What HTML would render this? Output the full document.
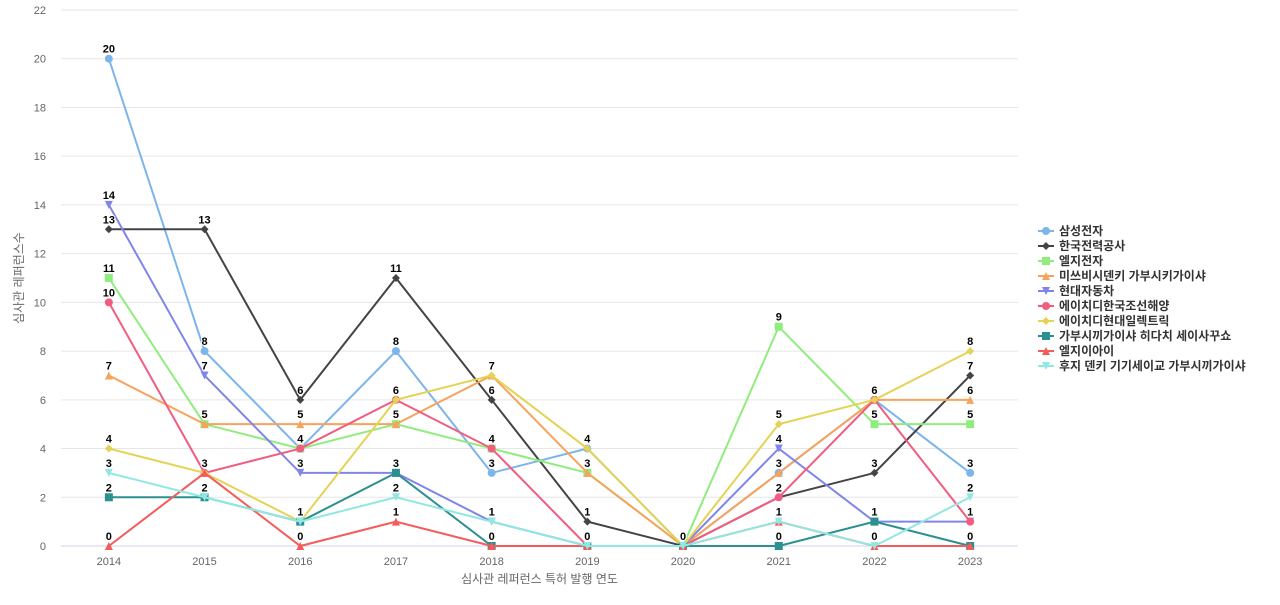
<!DOCTYPE html>
<html><head><meta charset="utf-8"><style>
body{margin:0;background:#fff;}
svg{font-family:"Liberation Sans","Noto Sans CJK KR",sans-serif;}
</style></head><body>
<svg id="chart" width="1280" height="600" xmlns="http://www.w3.org/2000/svg"></svg>
<script>
const categories=["2014","2015","2016","2017","2018","2019","2020","2021","2022","2023"];
const seriesNames=["삼성전자","한국전력공사","엘지전자","미쓰비시덴키 가부시키가이샤","현대자동차","에이치디한국조선해양","에이치디현대일렉트릭","가부시끼가이샤 히다치 세이사꾸쇼","엘지이아이","후지 덴키 기기세이교 가부시끼가이샤"];
const samsung=[20,8,4,8,3,4,0,3,6,3];
const kepco=[13,13,6,11,6,1,0,2,3,7];
const lgElec=[11,5,4,5,4,3,0,9,5,5];
const mitsubishi=[7,5,5,5,7,3,0,3,6,6];
const hyundai=[14,7,3,3,1,0,0,4,1,1];
const hdShip=[10,3,4,6,4,0,0,2,6,1];
const hdElectric=[4,3,1,6,7,4,0,5,6,8];
const hitachi=[2,2,1,3,0,0,0,0,1,0];
const lgInnotek=[0,3,0,1,0,0,0,1,0,0];
const fuji=[3,2,1,2,1,0,0,1,0,2];
const yTicks=[0,2,4,6,8,10,12,14,16,18,20,22];
const allSeries=[samsung,kepco,lgElec,mitsubishi,hyundai,hdShip,hdElectric,hitachi,lgInnotek,fuji];
const colors=["#7cb5ec","#434348","#90ed7d","#f7a35c","#8085e9","#f15c80","#e4d354","#2b908f","#f45b5b","#91e8e1"];
const shapes=["circle","diamond","square","triangle","triangle-down"];
const NS="http://www.w3.org/2000/svg";
const svg=document.getElementById("chart");
const L=61,R=1018,T=10,B=546,yMax=22;
const band=(R-L)/categories.length;
function xs(i){return L+band*(i+0.5);}
function ys(v){return B-(B-T)*v/yMax;}
function mk(tag,attrs,parent){const e=document.createElementNS(NS,tag);for(const k in attrs)e.setAttribute(k,attrs[k]);(parent||svg).appendChild(e);return e;}
function marker(shape,x,y,c,g){
  let e;
  if(shape==="circle")e=mk("circle",{cx:x,cy:y,r:4,fill:c},g);
  else if(shape==="square")e=mk("rect",{x:x-4,y:y-4,width:8,height:8,fill:c},g);
  else if(shape==="diamond")e=mk("path",{d:`M${x} ${y-4}L${x+4} ${y}L${x} ${y+4}L${x-4} ${y}Z`,fill:c},g);
  else if(shape==="triangle")e=mk("path",{d:`M${x} ${y-4}L${x+4} ${y+4}L${x-4} ${y+4}Z`,fill:c},g);
  else e=mk("path",{d:`M${x-4} ${y-4}L${x+4} ${y-4}L${x} ${y+4}Z`,fill:c},g);
  return e;
}
// grid
yTicks.forEach(t=>{
  const l=mk("line",{x1:L,x2:R,y1:ys(t),y2:ys(t),stroke:t===0?"#ccd6eb":"#e6e6e6","stroke-width":1});
  
  
  const tx=mk("text",{x:46,y:ys(t)+4,"text-anchor":"end","font-size":11,fill:"#666"});
  tx.textContent=t;
  
  
});
categories.forEach((c,i)=>{
  const tx=mk("text",{x:xs(i),y:565,"text-anchor":"middle","font-size":11,fill:"#666"});
  tx.textContent=c;
  
  
});
const xt=mk("text",{x:(L+R)/2,y:583,"text-anchor":"middle","font-size":12,fill:"#666"});
xt.textContent="심사관 레퍼런스 특허 발행 연도";


const yt=mk("text",{x:0,y:0,"text-anchor":"middle","font-size":12,fill:"#666",transform:`translate(23,${(T+B)/2}) rotate(-90)`});
yt.textContent="심사관 레퍼런스수";


// series
allSeries.forEach((vals,s)=>{
  const g=mk("g",{});
  
  
  const p=mk("polyline",{points:vals.map((v,i)=>xs(i)+","+ys(v)).join(" "),fill:"none",stroke:colors[s],"stroke-width":2},g);
  
  
  vals.forEach((v,i)=>{
    const m=marker(shapes[s%5],xs(i),ys(v),colors[s],g);
    
    
  });
});
allSeries.forEach((vals,s)=>{
  vals.forEach((v,i)=>{
    const tx=mk("text",{x:xs(i),y:ys(v)-6,"text-anchor":"middle","font-size":11,"font-weight":"bold",fill:"#000",stroke:"#fff","stroke-width":2,"paint-order":"stroke"});
    tx.textContent=v;
    
    
  });
});
// legend
seriesNames.forEach((n,s)=>{
  const y=231+s*15;
  const g=mk("g",{});
  
  
  mk("line",{x1:1038,x2:1054,y1:y,y2:y,stroke:colors[s],"stroke-width":2},g);
  marker(shapes[s%5],1046,y,colors[s],g);
  const tx=mk("text",{x:1059,y:y+4,"font-size":12,"font-weight":"bold",fill:"#333"},g);
  tx.textContent=n;
});
</script>
</body></html>
